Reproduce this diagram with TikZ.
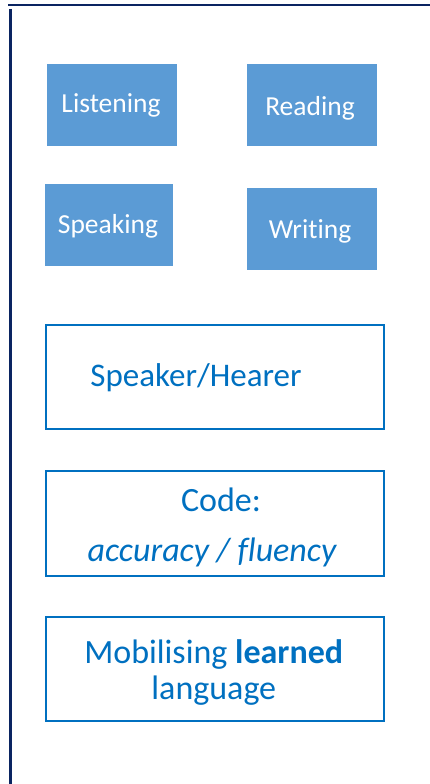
\documentclass[tikz,border=0pt]{standalone}
\usepackage{fontspec}
\setmainfont{Carlito}[Ligatures=NoCommon]
\definecolor{fillblue}{HTML}{5B9BD5}
\definecolor{lineblue}{HTML}{0070C0}
\definecolor{navyline}{HTML}{0A2461}
\begin{document}
\begin{tikzpicture}[x=1pt,y=-1pt,
  skill/.style={fill=fillblue, draw=none, inner sep=0pt, minimum width=130pt, minimum height=82pt},
  skilltext/.style={text=white, inner sep=0pt, anchor=base, font=\fontsize{27.5}{32}\selectfont},
  framebox/.style={draw=lineblue, line width=2pt, fill=none, inner sep=0pt, minimum width=338pt},
  frametext/.style={text=lineblue, inner sep=0pt, anchor=base, font=\fontsize{34}{40}\selectfont},
  border/.style={draw=navyline, line width=2.2pt}]
\useasboundingbox (0,0) rectangle (430,784);
% page border lines
\coordinate (topL) at (8,5);
\coordinate (topR) at (430,5);
\coordinate (leftT) at (10.5,9);
\coordinate (leftB) at (10.5,784);
\draw[border] (topL) -- (topR);
\draw[border] (leftT) -- (leftB);
% skill boxes
\node[skill] (listenbox) at (112,105) {};
\node[skilltext] (listen) at (111,112.7) {Listening};
\node[skill] (readbox) at (312,105) {};
\node[skilltext] (read) at (310,115) {Reading};
\node[skill, minimum width=128pt] (speakbox) at (109,225) {};
\node[skilltext] (speak) at (108,233.3) {Speaking};
\node[skill] (writebox) at (312,229) {};
\node[skilltext] (write) at (310,238.3) {Writing};
% frame boxes
\node[framebox, minimum height=103.7pt] (hearerbox) at (215,376.8) {};
\node[frametext, font=\fontsize{33}{39}\selectfont] (hearer) at (196,386.7) {Speaker/Hearer};
\node[framebox, minimum height=105pt] (codebox) at (215,523.5) {};
\node[frametext] (code) at (221,511.7) {Code:};
\node[frametext] (accuracy) at (212,561) {\itshape accuracy / fluency};
\node[framebox, minimum height=104pt] (mobbox) at (215,668.7) {};
\node[frametext] (mob) at (213.7,663.3) {Mobilising \textbf{learned}};
\node[frametext] (lang) at (213.8,699) {language};
\end{tikzpicture}
\end{document}
